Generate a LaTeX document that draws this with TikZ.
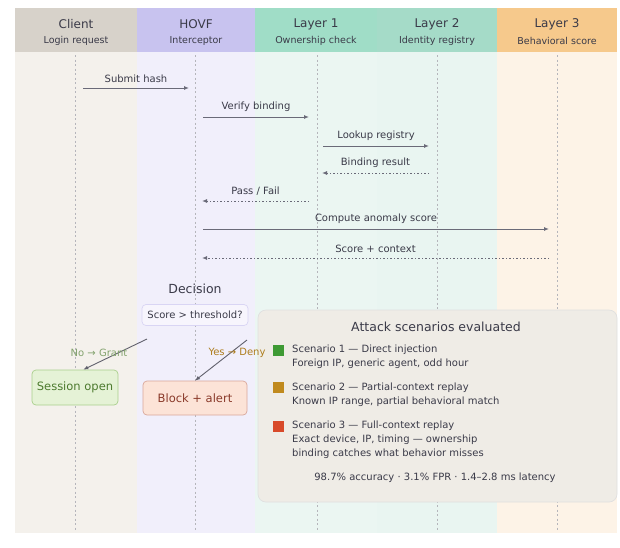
\documentclass[tikz,border=0pt]{standalone}
\usepackage{fontspec}
\setmainfont{DejaVu Sans}
\usetikzlibrary{arrows.meta}
\definecolor{hclient}{HTML}{D7D2CA}
\definecolor{hhovf}{HTML}{C8C3EF}
\definecolor{hlone}{HTML}{A0DDC7}
\definecolor{hltwo}{HTML}{A5DBC8}
\definecolor{hlthree}{HTML}{F6C98C}
\definecolor{bclient}{HTML}{F4F1EC}
\definecolor{bhovf}{HTML}{F1EFFB}
\definecolor{blone}{HTML}{EBF6F2}
\definecolor{bltwo}{HTML}{E9F5F1}
\definecolor{blthree}{HTML}{FDF3E7}
\definecolor{msg}{HTML}{6A6A78}
\definecolor{txt}{HTML}{3A3A48}
\definecolor{panel}{HTML}{EFECE6}
\definecolor{gfill}{HTML}{E5F2D6}
\definecolor{gdraw}{HTML}{A9CF8C}
\definecolor{gtext}{HTML}{4C7A2E}
\definecolor{rfill}{HTML}{FCE3D7}
\definecolor{rdraw}{HTML}{D9A79A}
\definecolor{rtext}{HTML}{8A3A2A}
\definecolor{sqg}{HTML}{3E9A34}
\definecolor{sqo}{HTML}{C08A1E}
\definecolor{sqr}{HTML}{D84A2A}
\tikzset{
  hdr/.style={minimum height=44pt, inner sep=0pt},
  htitle/.style={font=\fontsize{12}{14}\selectfont, text=txt, inner sep=0pt},
  hsub/.style={font=\fontsize{9.5}{11}\selectfont, text=txt, inner sep=0pt},
  lifeline/.style={draw=msg!50, dash pattern=on 2pt off 2.5pt, line width=0.6pt},
  call/.style={draw=msg, line width=1pt, -{Latex[length=5pt,width=4pt]}},
  reply/.style={draw=msg, line width=1pt, dash pattern=on 1.5pt off 2pt, -{Latex[length=5pt,width=4pt]}},
  mlabel/.style={font=\fontsize{10}{12}\selectfont, text=txt, inner sep=0pt, above=5pt},
  rbox/.style={rounded corners=4pt, line width=0.7pt, align=center},
  scen/.style={anchor=west, align=left, font=\fontsize{10}{14}\selectfont, text=txt, inner sep=0pt},
  sq/.style={minimum size=11pt, inner sep=0pt},
  darrow/.style={draw=txt!80, line width=0.9pt, -{Latex[length=5pt,width=4pt]}}
}
\begin{document}
\begin{tikzpicture}[x=1pt,y=-1pt]
\useasboundingbox (0,0) rectangle (620,547);
\fill[white] (0,0) rectangle (620,547);
% lane backgrounds
\fill[bclient] (15,52) rectangle (137,533);
\fill[bhovf] (137,52) rectangle (255,533);
\fill[blone] (255,52) rectangle (377,533);
\fill[bltwo] (377,52) rectangle (497,533);
\fill[blthree] (497,52) rectangle (617,533);
% headers
\node[hdr, fill=hclient, minimum width=122pt] (hc) at (76,30) {};
\node[hdr, fill=hhovf, minimum width=118pt] (hh) at (196,30) {};
\node[hdr, fill=hlone, minimum width=122pt] (h1) at (316,30) {};
\node[hdr, fill=hltwo, minimum width=120pt] (h2) at (437,30) {};
\node[hdr, fill=hlthree, minimum width=120pt] (h3) at (557,30) {};
\node[htitle] (hct) at (76,24) {Client};
\node[hsub] (hcs) at (76,41) {Login request};
\node[htitle] (hht) at (196,24) {HOVF};
\node[hsub] (hhs) at (196,41) {Interceptor};
\node[htitle] (h1t) at (316,24) {Layer 1};
\node[hsub] (h1s) at (316,41) {Ownership check};
\node[htitle] (h2t) at (437,24) {Layer 2};
\node[hsub] (h2s) at (437,41) {Identity registry};
\node[htitle] (h3t) at (557,24) {Layer 3};
\node[hsub] (h3s) at (557,41) {Behavioral score};
% lifelines
\coordinate (lc) at (75,530); \coordinate (lh) at (195,530);
\coordinate (l1) at (317,530); \coordinate (l2) at (437,530); \coordinate (l3) at (557,530);
\draw[lifeline] (75,55) -- (lc);
\draw[lifeline] (195,55) -- (lh);
\draw[lifeline] (317,55) -- (l1);
\draw[lifeline] (437,55) -- (l2);
\draw[lifeline] (557,55) -- (l3);
% messages
\coordinate (a1) at (83,88); \coordinate (b1) at (189,88);
\draw[call] (a1) -- node[mlabel] {Submit hash} (b1);
\coordinate (a2) at (203,117); \coordinate (b2) at (309,117);
\draw[call] (a2) -- node[mlabel] {Verify binding} (b2);
\coordinate (a3) at (323,146); \coordinate (b3) at (429,146);
\draw[call] (a3) -- node[mlabel] {Lookup registry} (b3);
\coordinate (a4) at (429,173); \coordinate (b4) at (322,173);
\draw[reply] (a4) -- node[mlabel] {Binding result} (b4);
\coordinate (a5) at (309,201); \coordinate (b5) at (202,201);
\draw[reply] (a5) -- node[mlabel] {Pass / Fail} (b5);
\coordinate (a6) at (203,229); \coordinate (b6) at (549,229);
\draw[call] (a6) -- node[mlabel] {Compute anomaly score} (b6);
\coordinate (a7) at (549,258); \coordinate (b7) at (202,258);
\draw[reply] (a7) -- node[mlabel] {Score + context} (b7);
% decision
\node[font=\fontsize{12.5}{14}\selectfont, text=txt] (dl) at (195,289) {Decision};
\node[rbox, draw=hhovf!70, fill=bhovf!60!white, minimum width=106pt, minimum height=21pt, inner sep=1pt, font=\fontsize{10}{12}\selectfont, text=txt] (dec) at (195,315) {Score > threshold?};
\node[rbox, draw=gdraw, fill=gfill, minimum width=86pt, minimum height=35pt, inner sep=1pt, font=\fontsize{11.5}{13}\selectfont, text=gtext] (ok) at (75,387.5) {Session open};
\node[rbox, draw=rdraw, fill=rfill, minimum width=104pt, minimum height=34pt, inner sep=1pt, font=\fontsize{11.5}{13}\selectfont, text=rtext] (blk) at (195,398) {Block + alert};
\coordinate (d1) at (147,339); \coordinate (d2) at (247,340);
\draw[darrow] (d1) -- (ok.65);
\draw[darrow] (d2) -- (blk.north);
\node[font=\fontsize{10}{12}\selectfont, text=gtext!70] (nol) at (99,353) {No → Grant};
% panel
\node[rbox, rounded corners=8pt, draw=black!12, fill=panel, minimum width=359pt, minimum height=192pt] (pan) at (437.5,406) {};
\node[font=\fontsize{10}{12}\selectfont, text=sqo!90!black] (yesl) at (237,353) {Yes → Deny};
\node[font=\fontsize{12.5}{14}\selectfont, text=txt] (pt) at (436,327) {Attack scenarios evaluated};
\node[sq, fill=sqg] (s1) at (278,350) {};
\node[scen] (t1) at (292,357) {Scenario 1 — Direct injection\\Foreign IP, generic agent, odd hour};
\node[sq, fill=sqo] (s2) at (278,387) {};
\node[scen] (t2) at (292,395) {Scenario 2 — Partial-context replay\\Known IP range, partial behavioral match};
\node[sq, fill=sqr] (s3) at (278,426) {};
\node[scen] (t3) at (292,439.5) {Scenario 3 — Full-context replay\\Exact device, IP, timing — ownership\\binding catches what behavior misses};
\node[font=\fontsize{10}{12}\selectfont, text=txt] (st) at (435,478) {98.7\% accuracy · 3.1\% FPR · 1.4–2.8 ms latency};
\end{tikzpicture}
\end{document}
